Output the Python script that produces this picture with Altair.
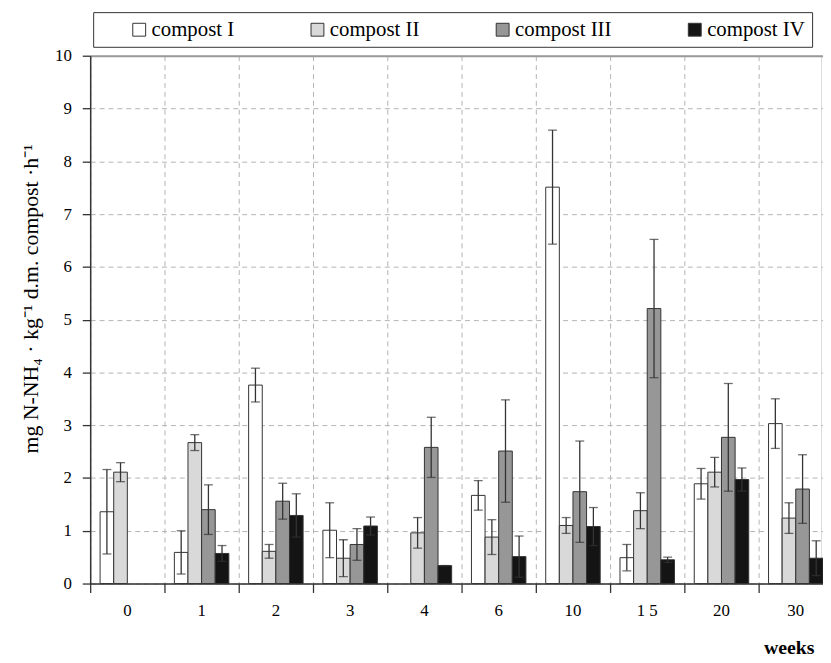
import altair as alt
import pandas as pd

weeks = ["0", "1", "2", "3", "4", "6", "10", "1 5", "20", "30"]
series = ["compost I", "compost II", "compost III", "compost IV"]
colors = ["#ffffff", "#d9d9d9", "#979797", "#141414"]

mean_I = [1.36, 0.59, 3.76, 1.01, None, 1.67, 7.51, 0.49, 1.89, 3.03]
err_I = [0.80, 0.41, 0.32, 0.52, None, 0.28, 1.08, 0.25, 0.29, 0.47]
mean_II = [2.11, 2.67, 0.61, 0.48, 0.96, 0.88, 1.10, 1.38, 2.11, 1.24]
err_II = [0.18, 0.15, 0.13, 0.35, 0.29, 0.33, 0.15, 0.34, 0.28, 0.29]
mean_III = [None, 1.40, 1.56, 0.74, 2.58, 2.51, 1.74, 5.21, 2.77, 1.79]
err_III = [None, 0.47, 0.34, 0.30, 0.57, 0.97, 0.96, 1.31, 1.02, 0.65]
mean_IV = [None, 0.57, 1.29, 1.09, 0.34, 0.51, 1.08, 0.45, 1.97, 0.48]
err_IV = [None, 0.15, 0.41, 0.17, 0.0, 0.39, 0.36, 0.05, 0.22, 0.33]

means = [mean_I, mean_II, mean_III, mean_IV]
errs = [err_I, err_II, err_III, err_IV]

rows = []
for s, m_list, e_list in zip(series, means, errs):
    for w, m, e in zip(weeks, m_list, e_list):
        if m is None:
            continue
        rows.append({"week": w, "series": s, "mean": m,
                     "lo": max(m - e, 0), "hi": m + e})
df = pd.DataFrame(rows)

FONT = "Liberation Serif"

x_enc = alt.X(
    "week:N", sort=weeks,
    scale=alt.Scale(domain=weeks, range=[0, 750], paddingInner=0, paddingOuter=0),
    axis=alt.Axis(
        title="weeks", bandPosition=0, labelOffset=0, labelAngle=0,
        grid=True, gridDash=[5, 4], gridColor="#b3b3b3", gridWidth=1,
        ticks=True, tickSize=9, tickColor="#333333", tickWidth=1.3,
        domainColor="#333333", domainWidth=1.5,
        labelFont=FONT, labelFontSize=17, labelColor="black", labelPadding=10,
        labelFlush=False,
        titleFont=FONT, titleFontSize=20, titleFontWeight="bold", titleColor="black",
        titleX=731, titleY=71, titleAlign="right", titleBaseline="alphabetic",
    ),
)
xoff_enc = alt.XOffset("series:N", sort=series,
                       scale=alt.Scale(domain=series, paddingOuter=0.727, paddingInner=0))

y_axis = alt.Axis(
    title="mg N-NH\u2084  \u00b7  kg\u207b\u00b9 d.m. compost \u00b7h\u207b\u00b9",
    values=list(range(0, 11)),
    grid=True,
    gridDash={"condition": {"test": "datum.value === 10", "value": []}, "value": [5, 4]},
    gridColor={"condition": {"test": "datum.value === 10", "value": "#999999"}, "value": "#b3b3b3"},
    gridWidth={"condition": {"test": "datum.value === 10", "value": 2}, "value": 1},
    ticks=True, tickSize=8, tickColor="#333333", tickWidth=1.3,
    domainColor="#333333", domainWidth=1.5,
    labelFont=FONT, labelFontSize=17, labelColor="black", labelPadding=11,
    titleFont=FONT, titleFontSize=22, titleFontWeight="normal", titleColor="black",
    titlePadding=12, titleY=245,
)

bars = alt.Chart(df).mark_bar(stroke="#333333", strokeWidth=1).encode(
    x=x_enc,
    xOffset=xoff_enc,
    y=alt.Y("mean:Q", scale=alt.Scale(domain=[0, 10]), axis=y_axis),
    fill=alt.Fill(
        "series:N", sort=series,
        scale=alt.Scale(domain=series, range=colors),
        legend=alt.Legend(
            title=None, orient="none", legendX=3, legendY=-44, direction="horizontal",
            symbolType="square", symbolSize=169, symbolStrokeColor="#333333",
            symbolStrokeWidth=1, symbolOffset=29, columnPadding=44,
            labelFont=FONT, labelFontSize=21, labelColor="black", labelOffset=2,
            padding=7, strokeColor="#333333", fillColor="white",
        ),
    ),
)

rules = alt.Chart(df).mark_rule(color="#333333", strokeWidth=1.3).encode(
    x=alt.X("week:N", sort=weeks),
    xOffset=alt.XOffset("series:N", sort=series),
    y="lo:Q",
    y2="hi:Q",
)

caps = alt.Chart(df).transform_fold(["lo", "hi"], as_=["end", "val"]).mark_tick(
    orient="horizontal", size=9, thickness=1.3, color="#333333"
).encode(
    x=alt.X("week:N", sort=weeks),
    xOffset=alt.XOffset("series:N", sort=series),
    y="val:Q",
)

chart = alt.layer(bars, rules, caps).properties(
    width=738, height=533,
    padding={"left": 83, "top": 45, "right": 2, "bottom": 72},
    autosize=alt.AutoSizeParams(type="none"),
).configure_view(stroke=None).configure(background="white", font=FONT)

chart.save("out.html", embed_options={"renderer": "svg", "actions": False})
